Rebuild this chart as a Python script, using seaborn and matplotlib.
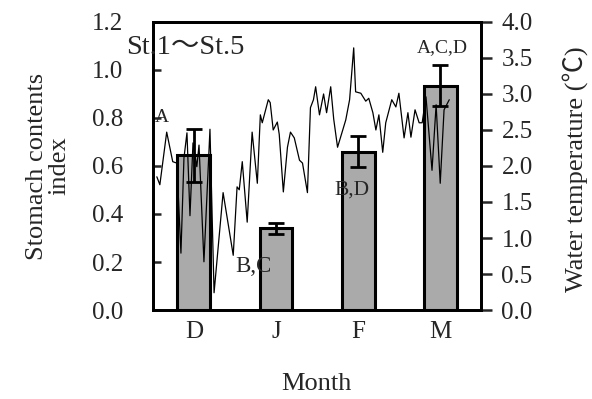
import numpy as np
import pandas as pd
import matplotlib
matplotlib.use("Agg")
import matplotlib.pyplot as plt
import seaborn as sns

#%% data
months = ["D", "J", "F", "M"]
stomachIndex = [0.645, 0.34, 0.66, 0.935]
stomachErr = [0.11, 0.022, 0.065, 0.085]
sigLetters = ["A", "B,C", "B,D", "A,C,D"]

# water temperature, days counted from 1 Dec (30 days per month slot)
tempDays = [1.5, 2.6, 5.1, 7.3, 8.8, 10.3, 11.4, 12.5, 13.6, 14.7, 16.1, 16.9,
            18.7, 20.9, 22.4, 25.7, 29.4, 30.8, 31.6, 32.7, 34.5, 36.3, 38.2,
            39.3, 40.0, 42.2, 42.9, 44.0, 45.5, 46.2, 47.7, 49.2, 50.3, 51.7,
            53.6, 54.7, 56.5, 57.6, 58.7, 59.5, 60.9, 62.4, 63.5, 65.0, 66.1,
            67.5, 69.4, 70.5, 71.9, 73.4, 74.1, 76.0, 77.8, 78.9, 80.4, 81.5,
            82.6, 84.0, 85.1, 87.3, 88.8, 89.9, 91.8, 93.2, 94.3, 95.8, 97.3,
            98.4, 99.8, 102.0, 103.5, 105.0, 106.4, 108.3]
waterTemp = [1.85, 1.74, 2.47, 2.06, 2.04, 0.79, 2.11, 2.46, 1.31, 2.32, 1.99,
             2.29, 0.67, 2.51, 0.24, 1.63, 0.76, 1.71, 1.67, 2.06, 1.22, 2.47,
             1.76, 2.71, 2.60, 2.92, 2.88, 2.50, 2.61, 2.44, 1.64, 2.26, 2.47,
             2.39, 2.08, 2.04, 1.63, 2.81, 2.92, 3.10, 2.71, 3.00, 2.74, 3.10,
             2.65, 2.26, 2.50, 2.64, 2.92, 3.64, 3.03, 3.01, 2.90, 2.94, 2.74,
             2.50, 2.71, 2.19, 2.60, 2.92, 2.82, 3.01, 2.39, 2.74, 2.40, 2.78,
             2.60, 2.60, 2.96, 1.94, 2.85, 1.76, 2.78, 2.92]

df = pd.DataFrame({"Month": months, "SCI": stomachIndex, "err": stomachErr})

#%% style
sns.set_style("white")
plt.rcParams['font.family'] = ['Liberation Serif', 'Noto Sans CJK JP', 'DejaVu Sans']

fig = plt.figure(figsize=(5.92, 3.99), dpi=100)
ax = fig.add_axes([0.258, 0.223, 0.555, 0.722])
ax2 = ax.twinx()

sns.barplot(data=df, x="Month", y="SCI", color="#aaaaaa", edgecolor="black",
            linewidth=2.2, width=0.4, errorbar=None, ax=ax, zorder=2)

# temperature line on the secondary axis
tempX = -0.5 + np.array(tempDays) / 30.0
ax2.plot(tempX, waterTemp, color="black", lw=0.9, zorder=3)
ax2.set_zorder(ax.get_zorder() + 1)
ax2.patch.set_visible(False)

# error bars over everything (scaled to the right axis)
k = 4.0 / 1.2
ax2.errorbar(np.arange(len(months)), np.array(stomachIndex) * k,
             yerr=np.array(stomachErr) * k, fmt="none", ecolor="black",
             elinewidth=2, capsize=6, capthick=2, zorder=4)

letterPos = [(-0.39, 0.80, 14), (0.72, 0.18, 16.5), (1.93, 0.50, 15.5), (3.02, 1.095, 14)]
for lab, (lx, ly, fs) in zip(sigLetters, letterPos):
    ax2.text(lx, ly * k, lab, ha="center", va="center", fontsize=fs, zorder=5)

ax2.text(-0.83, 1.095 * k, "St.1～St.5", ha="left", va="center", fontsize=20.5, zorder=5)

#%% axes formatting
ax.set_xlim(-0.5, 3.5)
ax.set_ylim(0, 1.2)
ax.set_yticks(np.arange(0, 1.21, 0.2))
ax.set_yticklabels([f"{v:.1f}" for v in np.arange(0, 1.21, 0.2)])
ax.tick_params(axis="y", direction="in", length=6, width=1.8, labelsize=18, pad=21.5)
ax.set_xticks(np.arange(4))
ax.set_xticks([-0.5, 0.5, 1.5, 2.5, 3.5], minor=True)
ax.tick_params(axis="x", which="major", length=0, labelsize=18, pad=8)
ax.tick_params(axis="x", which="minor", direction="out", length=8, width=1.8)
ax.set_xlabel("")
ax.set_ylabel("")

ax2.set_ylim(0, 4.0)
ax2.set_yticks(np.arange(0, 4.01, 0.5))
ax2.set_yticklabels([f"{v:.1f}" for v in np.arange(0, 4.01, 0.5)])
ax2.tick_params(axis="y", direction="out", length=8, width=1.8, labelsize=18, pad=6.5)

for a in (ax, ax2):
    for s in a.spines.values():
        s.set_visible(True)
        s.set_linewidth(2)
        s.set_color("black")

fig.text(0.534, 0.038, "Month", ha="center", va="center", fontsize=19)
fig.text(0.081, 0.584, "Stomach contents\nindex", ha="center", va="center",
         rotation=90, fontsize=19, linespacing=1.0)
fig.text(0.971, 0.575, "Water temperature (℃)", ha="center", va="center",
         rotation=90, fontsize=19)

fig.savefig("out.png", dpi=100)
